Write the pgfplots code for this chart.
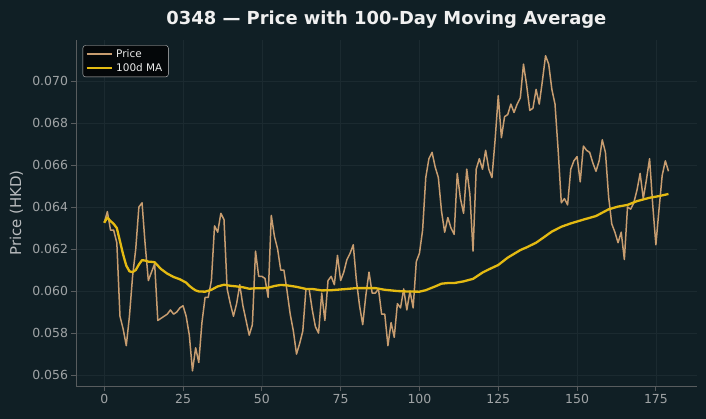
\documentclass[border=0pt]{standalone}
\usepackage{fontspec}
\setmainfont{DejaVu Sans}
\usepackage{pgfplots}
\usepackage{pgfplotstable}
\pgfplotsset{compat=1.18}

\definecolor{bgc}{RGB}{16,31,37}
\definecolor{pricec}{RGB}{200,157,112}
\definecolor{mac}{RGB}{228,186,18}
\definecolor{gridc}{RGB}{27,42,48}
\definecolor{spinec}{RGB}{88,92,94}
\definecolor{tickc}{RGB}{160,164,166}
\definecolor{labelc}{RGB}{185,188,190}
\definecolor{titlec}{RGB}{240,240,240}
\definecolor{legbg}{RGB}{4,7,9}
\definecolor{legedge}{RGB}{200,200,200}
\definecolor{legtext}{RGB}{235,235,235}

% daily closing price
\pgfplotstableread{
x y
0 0.06325
1 0.06378
2 0.0629
3 0.0629
4 0.0623
5 0.0588
6 0.0582
7 0.0574
8 0.0588
9 0.0607
10 0.0620
11 0.0640
12 0.0642
13 0.0622
14 0.0605
15 0.0609
16 0.0613
17 0.0586
18 0.0587
19 0.0588
20 0.0589
21 0.0591
22 0.0589
23 0.0590
24 0.0592
25 0.0593
26 0.0588
27 0.0579
28 0.0562
29 0.0573
30 0.0566
31 0.0585
32 0.0597
33 0.0597
34 0.0605
35 0.0631
36 0.0628
37 0.0637
38 0.0634
39 0.0601
40 0.0594
41 0.0588
42 0.0594
43 0.0603
44 0.0593
45 0.0586
46 0.0579
47 0.0584
48 0.0619
49 0.0607
50 0.0607
51 0.0606
52 0.0597
53 0.0636
54 0.0626
55 0.0620
56 0.0610
57 0.0610
58 0.0600
59 0.0589
60 0.0581
61 0.0570
62 0.0575
63 0.0581
64 0.0601
65 0.0601
66 0.0591
67 0.0583
68 0.0580
69 0.0599
70 0.0586
71 0.0605
72 0.0607
73 0.0603
74 0.0617
75 0.0605
76 0.0609
77 0.0615
78 0.0618
79 0.0622
80 0.0605
81 0.0593
82 0.0584
83 0.0598
84 0.0609
85 0.0599
86 0.0599
87 0.0601
88 0.0589
89 0.0589
90 0.0574
91 0.0585
92 0.0578
93 0.0594
94 0.0592
95 0.0601
96 0.0591
97 0.0600
98 0.0592
99 0.0614
100 0.0618
101 0.0629
102 0.0654
103 0.0663
104 0.0666
105 0.0659
106 0.0654
107 0.0638
108 0.0628
109 0.0635
110 0.0630
111 0.0627
112 0.0656
113 0.0644
114 0.0637
115 0.0658
116 0.0646
117 0.0619
118 0.0658
119 0.0663
120 0.0658
121 0.0667
122 0.0658
123 0.0654
124 0.0672
125 0.0693
126 0.0673
127 0.0683
128 0.0684
129 0.0689
130 0.0685
131 0.0689
132 0.0692
133 0.0708
134 0.0698
135 0.0686
136 0.0687
137 0.0696
138 0.0689
139 0.0700
140 0.0712
141 0.0708
142 0.0696
143 0.0689
144 0.0667
145 0.0642
146 0.0644
147 0.0641
148 0.0658
149 0.0662
150 0.0664
151 0.0652
152 0.0669
153 0.0667
154 0.0666
155 0.0661
156 0.0657
157 0.0662
158 0.0672
159 0.0666
160 0.0645
161 0.0632
162 0.0628
163 0.0623
164 0.0628
165 0.0615
166 0.0640
167 0.0639
168 0.0642
169 0.0648
170 0.0656
171 0.0644
172 0.0653
173 0.0663
174 0.0641
175 0.0622
176 0.0639
177 0.0655
178 0.0662
179 0.0657
}\pricetable

% 100-day moving average
\pgfplotstableread{
x y
0 0.06325
1 0.0635
2 0.06333
3 0.0632
4 0.0630
5 0.06237
6 0.06174
7 0.06121
8 0.06094
9 0.0609
10 0.0610
11 0.06126
12 0.06147
13 0.06145
14 0.0614
15 0.06139
16 0.06137
17 0.06121
18 0.06105
19 0.06094
20 0.06083
22 0.06067
24 0.06056
26 0.0604
27 0.06025
28 0.06013
29 0.06003
30 0.05998
32 0.05997
34 0.06006
36 0.06022
38 0.0603
40 0.06025
42 0.06022
44 0.06018
46 0.06011
48 0.06013
50 0.06013
52 0.06016
54 0.06024
56 0.06029
58 0.06027
61 0.0602
64 0.0601
66 0.0601
69 0.06003
72 0.06004
77 0.0601
80 0.06014
83 0.06014
86 0.06014
89 0.06006
93 0.0600
96 0.05998
100 0.05997
102 0.06004
104 0.06016
105 0.06022
107 0.06035
109 0.06038
111 0.06038
114 0.06046
117 0.06058
119 0.06078
120 0.06088
122 0.06103
125 0.06124
128 0.06159
132 0.06195
134 0.06208
137 0.0623
139 0.06251
142 0.06283
145 0.06306
148 0.06322
152 0.0634
156 0.06357
160 0.06389
163 0.06402
166 0.0641
169 0.06428
173 0.06444
176 0.06452
179 0.06462
}\matable

\begin{document}
\begin{tikzpicture}
\fill[bgc] (-76bp,-33bp) rectangle (630bp,386bp);
\useasboundingbox (-76bp,-33bp) rectangle (630bp,386bp);
\begin{axis}[
  at={(0,0)}, anchor=south west,
  scale only axis, width=620.7bp, height=346bp,
  xmin=-8.95, xmax=187.95, ymin=0.05548, ymax=0.07195,
  axis x line*=bottom, axis y line*=left,
  axis line style={spinec, line width=0.8bp},
  xtick={0,25,50,75,100,125,150,175},
  ytick={0.056,0.058,0.060,0.062,0.064,0.066,0.068,0.070},
  scaled y ticks=false,
  yticklabel style={/pgf/number format/.cd, fixed, fixed zerofill, precision=3},
  /pgf/number format/assume math mode=true,
  tick align=outside,
  major tick length=4.5bp,
  tick style={spinec, line width=0.8bp},
  ticklabel style={font=\fontsize{12.5}{14}\selectfont, text=tickc},
  grid=major,
  major grid style={gridc, line width=0.6bp},
  ylabel={Price (HKD)},
  ylabel style={font=\fontsize{15}{18}\selectfont, text=labelc,
    at={(axis description cs:0,0.5)}, anchor=center, rotate=0, yshift=59.5bp},
  title={0348 — Price with 100-Day Moving Average},
  title style={font=\bfseries\fontsize{18}{21}\selectfont, text=titlec,
    at={(axis description cs:0.5,1)}, anchor=base, yshift=10bp},
  legend style={at={(0.0108,0.9847)}, anchor=north west,
    fill=legbg, draw=legedge, rounded corners=2.5bp,
    text=legtext, font=\fontsize{10.5}{12}\selectfont,
    inner xsep=2.5bp, inner ysep=2bp, row sep=0.5bp,
    nodes={inner xsep=3.5bp}},
  legend cell align=left,
  legend image code/.code={\draw[#1] (0bp,0bp) -- (25bp,0bp);},
]
\addplot[pricec, line width=1.5bp, line join=round] table {\pricetable};
\addlegendentry{Price}
\addplot[mac, line width=2.3bp, line join=round] table {\matable};
\addlegendentry{100d MA}
\end{axis}
\end{tikzpicture}
\end{document}
